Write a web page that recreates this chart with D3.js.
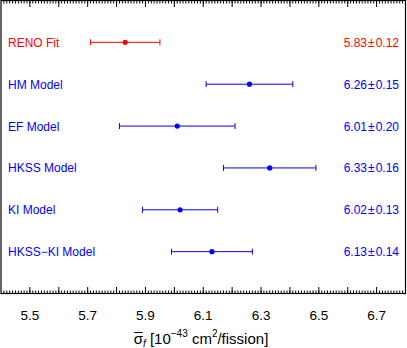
<!DOCTYPE html>
<html><head><meta charset="utf-8">
<script src="https://cdn.jsdelivr.net/npm/d3@7"></script>
<style>body{margin:0;background:#fff}svg{display:block;font-family:"Liberation Sans",Arial,sans-serif}</style>
</head><body><svg id="c" width="407" height="348"></svg>
<script>
const labels = ["RENO Fit","HM Model","EF Model","HKSS Model","KI Model","HKSS\u2212KI Model"];
const values = [5.83,6.26,6.01,6.33,6.02,6.13];
const errors = [0.12,0.15,0.20,0.16,0.13,0.14];
const colors = ["#ff0000","#0000ff","#0000ff","#0000ff","#0000ff","#0000ff"];
const tickLabels = [5.5,5.7,5.9,6.1,6.3,6.5,6.7];

const svg = d3.select("#c");
const L=1, R=405.5, T=0.5, B=293.5;
const x = d3.scaleLinear().domain([5.4,6.8]).range([L,R]);
const y = d3.scaleLinear().domain([0,7]).range([T,B]);

const minor = d3.range(541,680).map(v=>v/100);
const major = d3.range(55,68).map(v=>v/10);
const g = svg.append("g");
minor.forEach(v=>{
  g.append("line").attr("x1",x(v)).attr("x2",x(v)).attr("y1",B).attr("y2",B-3).attr("stroke","#000");
  g.append("line").attr("x1",x(v)).attr("x2",x(v)).attr("y1",T).attr("y2",T+3).attr("stroke","#000");
});
major.forEach(v=>{
  g.append("line").attr("x1",x(v)).attr("x2",x(v)).attr("y1",B).attr("y2",B-6.5).attr("stroke","#000");
  g.append("line").attr("x1",x(v)).attr("x2",x(v)).attr("y1",T).attr("y2",T+6.5).attr("stroke","#000");
});
svg.append("rect").attr("x",L).attr("y",T).attr("width",R-L).attr("height",B-T)
  .attr("fill","none").attr("stroke","#000").attr("stroke-width",1.2);

svg.selectAll(".tl").data(tickLabels).join("text")
  .attr("x",d=>x(d)).attr("y",319.5).attr("text-anchor","middle")
  .attr("font-size",13.5).text(d=>d.toFixed(1));

const t = svg.append("text").attr("x",201).attr("y",344).attr("text-anchor","middle").attr("font-size",15);
t.append("tspan").text("\u03C3");
t.append("tspan").attr("font-size",10).attr("dy",3).attr("font-style","italic").text("f");
t.append("tspan").attr("dy",-3).text(" [10");
t.append("tspan").attr("font-size",10).attr("dy",-7).text("\u221243");
t.append("tspan").attr("dy",7).text(" cm");
t.append("tspan").attr("font-size",10).attr("dy",-7).text("2");
t.append("tspan").attr("dy",7).text("/fission]");
const tb = t.node().getBBox();
svg.append("line").attr("x1",tb.x+0.5).attr("x2",tb.x+9).attr("y1",332.5).attr("y2",332.5).attr("stroke","#000").attr("stroke-width",1);

const rows = svg.selectAll(".row").data(values).join("g");
rows.each(function(v,i){
  const s=d3.select(this), yy=y(i+1), c=colors[i];
  s.append("line").attr("x1",x(v-errors[i])).attr("x2",x(v+errors[i])).attr("y1",yy).attr("y2",yy).attr("stroke",c);
  [v-errors[i],v+errors[i]].forEach(e=>s.append("line").attr("x1",x(e)).attr("x2",x(e)).attr("y1",yy-3).attr("y2",yy+3).attr("stroke",c));
  s.append("circle").attr("cx",x(v)).attr("cy",yy).attr("r",2.6).attr("fill",c);
  s.append("text").attr("x",8).attr("y",yy+4.5).attr("font-size",12).attr("fill",c).text(labels[i]);
  const rt = s.append("text").attr("x",399).attr("y",yy+4.5).attr("font-size",12).attr("fill",c).attr("text-anchor","end");
  rt.append("tspan").text(v.toFixed(2));
  rt.append("tspan").attr("dx",1).text("\u00B1");
  rt.append("tspan").attr("dx",1).text(errors[i].toFixed(2));
});
</script></body></html>
